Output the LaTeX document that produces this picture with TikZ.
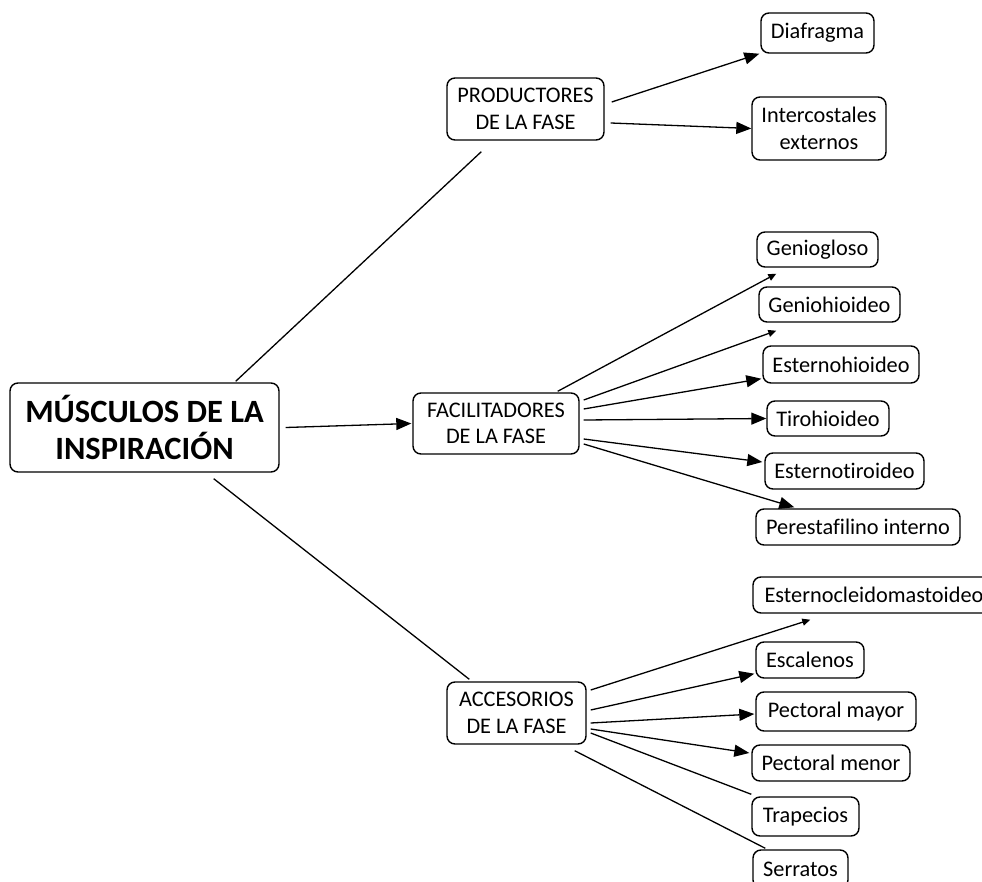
\documentclass[tikz,border=0pt]{standalone}
\usepackage{fontspec}
\setmainfont[Ligatures={NoCommon}]{Carlito}
\usetikzlibrary{arrows.meta,calc}
\begin{document}
\begin{tikzpicture}[x=1pt,y=-1pt,
 box/.style={draw, rounded corners=8pt, line width=1.4pt, inner sep=0pt, align=center, font=\fontsize{22.3}{26.5}\selectfont},
 conn/.style={line width=1.3pt},
 big/.style={conn,-{Triangle[length=15pt,width=12pt]}},
 small/.style={conn,-{Triangle[length=8pt,width=7pt]}}]
\useasboundingbox (0,0) rectangle (982,882);
% main and level-1 boxes
\node[box, minimum width=269pt, minimum height=89pt, font=\fontsize{32.5}{37}\selectfont\bfseries] (main) at (144.5,427.5) {MÚSCULOS DE LA\\INSPIRACIÓN};
\node[box, minimum width=157pt, minimum height=62pt] (prod) at (525.5,109) {PRODUCTORES\\DE LA FASE};
\node[box, minimum width=166pt, minimum height=61pt] (fac) at (496,423.5) {FACILITADORES\\DE LA FASE};
\node[box, minimum width=139pt, minimum height=62pt] (acc) at (516.5,713) {ACCESORIOS\\DE LA FASE};
% productores
\node[box, minimum width=113pt, minimum height=40pt] (diaf) at (817.5,33) {Diafragma};
\node[box, minimum width=134pt, minimum height=63pt] (inter) at (819,128.5) {Intercostales\\externos};
% facilitadores
\node[box, minimum width=121pt, minimum height=35pt] (genio) at (817.5,249.5) {Geniogloso};
\node[box, minimum width=141pt, minimum height=35pt] (geniohi) at (829.5,304.5) {Geniohioideo};
\node[box, minimum width=156pt, minimum height=37pt] (esthi) at (841,364.5) {Esternohioideo};
\node[box, minimum width=122pt, minimum height=35pt] (tiro) at (828,418.5) {Tirohioideo};
\node[box, minimum width=159pt, minimum height=36pt] (estti) at (844.5,471) {Esternotiroideo};
\node[box, minimum width=204pt, minimum height=36pt] (peres) at (858,527) {Perestafilino interno};
% accesorios
\node[box, minimum width=242pt, minimum height=36pt] (ecm) at (874,595) {Esternocleidomastoideo};
\node[box, minimum width=108pt, minimum height=36pt] (esc) at (810,660) {Escalenos};
\node[box, minimum width=160pt, minimum height=39pt] (pmay) at (836,711.5) {Pectoral mayor};
\node[box, minimum width=158pt, minimum height=36pt] (pmen) at (831,763) {Pectoral menor};
\node[box, minimum width=107pt, minimum height=39pt] (trap) at (805.5,816.5) {Trapecios};
\node[box, minimum width=95pt, minimum height=38pt] (serr) at (800.5,869) {Serratos};
% main connectors
\draw[conn] ($(main.north east)+(-44,-1)$) -- ($(prod.south west)+(35,11)$);
\draw[big] ($(main.east)+(6,0)$) -- ($(fac.west)+(-1,0)$);
\draw[conn] ($(main.south east)+(-66,6)$) -- ($(acc.north west)+(23,-2)$);
% productores connectors
\draw[big] ($(prod.east)+(7,-7)$) -- ($(diaf.south west)+(-1,0)$);
\draw[big] ($(prod.east)+(6,14)$) -- (inter.west);
% facilitadores connectors
\draw[small] ($(fac.north east)+(-22,-1)$) -- ($(genio.south west)+(20,6)$);
\draw[small] ($(fac.east)+(4,-23.5)$) -- ($(geniohi.south west)+(18,8)$);
\draw[big] ($(fac.east)+(4,-14.5)$) -- ($(esthi.south west)+(-1,-5)$);
\draw[big] ($(fac.east)+(4,-3.5)$) -- (tiro.west);
\draw[big] ($(fac.east)+(4,15.5)$) -- ($(estti.west)+(-2,-9)$);
\draw[big] ($(fac.east)+(4,20.5)$) -- ($(peres.north west)+(39,-1)$);
% accesorios connectors
\draw[small] ($(acc.east)+(4,-23)$) -- ($(ecm.south west)+(58,6)$);
\draw[big] ($(acc.east)+(4,-3)$) -- ($(esc.south west)+(-1,-5)$);
\draw[big] ($(acc.east)+(4,10)$) -- ($(pmay.west)+(-1,2.5)$);
\draw[big] ($(acc.east)+(4,16)$) -- ($(pmen.west)+(-2,-10)$);
\draw[conn] ($(acc.east)+(4,20)$) -- ($(trap.north west)+(0,-2)$);
\draw[conn] ($(acc.south east)+(-12,6)$) -- ($(serr.north west)+(13,-1)$);
\end{tikzpicture}
\end{document}
